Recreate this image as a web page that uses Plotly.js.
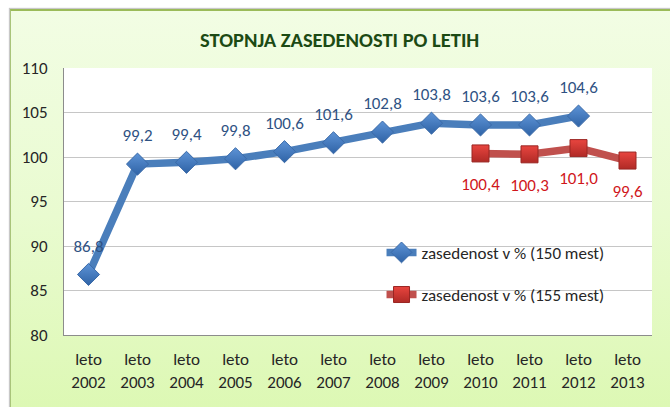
<!DOCTYPE html>
<html>
<head>
<meta charset="utf-8">
<script src="https://cdn.plot.ly/plotly-3.0.1.min.js"></script>
<style>
  html, body { margin: 0; padding: 0; background: #ffffff; }
  #wrap { position: relative; width: 670px; height: 407px; overflow: hidden; background: #ffffff; }
  #frame { position: absolute; left: 10px; top: 9px; width: 670px; height: 410px;
    background: linear-gradient(to bottom, #f2fde4 0%, #e9fbd0 50%, #dcf8b2 100%);
    border-left: 1px solid #a9c47a; border-top: 2px solid #9bbb59;
    box-shadow: -1px -1px 1px #c8c8c8; }
  #chart { position: absolute; left: 0; top: 0; width: 670px; height: 407px; }
</style>
</head>
<body>
<div id="wrap">
  <div id="frame"></div>
  <div id="chart"></div>
</div>
<script>
const categories = ["leto<br>2002","leto<br>2003","leto<br>2004","leto<br>2005","leto<br>2006","leto<br>2007","leto<br>2008","leto<br>2009","leto<br>2010","leto<br>2011","leto<br>2012","leto<br>2013"];
const series150Name = "zasedenost v % (150 mest)";
const series150 = [86.8, 99.2, 99.4, 99.8, 100.6, 101.6, 102.8, 103.8, 103.6, 103.6, 104.6, null];
const series155Name = "zasedenost v % (155 mest)";
const series155 = [null, null, null, null, null, null, null, null, 100.4, 100.3, 101.0, 99.6];
const yTicks = [80, 85, 90, 95, 100, 105, 110];

const fmt = v => v == null ? "" : v.toFixed(1).replace(".", ",");
const FONT = "Carlito, Calibri, Lato, 'Open Sans', sans-serif";
const FS = 17;

const trace150 = {
  x: categories, y: series150, name: series150Name,
  type: "scatter", mode: "lines+markers",
  line: {color: "#4a7ebb", width: 7.5},
  marker: {symbol: "diamond", size: 17, color: "#5d93d6",
           gradient: {type: "vertical", color: "#2f63a6"},
           line: {color: "#3a6aa8", width: 1}},
  legendgroup: "a", cliponaxis: false
};
const trace155 = {
  x: categories, y: series155, name: series155Name,
  type: "scatter", mode: "lines+markers",
  line: {color: "#c0504d", width: 7.5},
  marker: {symbol: "square", size: 17, color: "#e8453f",
           gradient: {type: "vertical", color: "#b02a26"},
           line: {color: "#9a2623", width: 1}},
  legendgroup: "b", cliponaxis: false
};
const labels150 = {
  x: categories, y: series150, type: "scatter", mode: "markers+text",
  text: series150.map(fmt), textposition: "top center",
  textfont: {family: FONT, size: FS, color: "#2f5283"},
  marker: {size: 28, color: "rgba(0,0,0,0)"}, showlegend: false, hoverinfo: "skip", cliponaxis: false
};
const labels155 = {
  x: categories, y: series155, type: "scatter", mode: "markers+text",
  text: series155.map(fmt), textposition: "bottom center",
  textfont: {family: FONT, size: FS, color: "#d0161b"},
  marker: {size: 36, color: "rgba(0,0,0,0)"}, showlegend: false, hoverinfo: "skip", cliponaxis: false
};

const layout = {
  width: 670, height: 407,
  margin: {l: 64, r: 18, t: 68, b: 72},
  paper_bgcolor: "rgba(0,0,0,0)",
  plot_bgcolor: "#ffffff",
  font: {family: FONT, size: FS, color: "#262626"},
  title: {text: "<b>STOPNJA ZASEDENOSTI PO LETIH</b>", font: {family: FONT, size: 20.5, color: "#1c4a14"},
          x: 0.507, xref: "container", y: 0.902, yref: "container", yanchor: "middle", xanchor: "center"},
  xaxis: {type: "category", range: [-0.5, 11.5], showgrid: false, showline: true,
          linecolor: "#8c8c8c", linewidth: 1, ticks: "", ticklabelstandoff: 9,
          tickfont: {family: FONT, size: FS, color: "#262626"}, fixedrange: true},
  yaxis: {range: [80, 110], tickvals: yTicks, ticktext: yTicks.map(String), showgrid: true,
          gridcolor: "#c6c6c6", gridwidth: 1, showline: true, linecolor: "#8c8c8c", linewidth: 1,
          ticks: "", ticklabelstandoff: 12, zeroline: false,
          tickfont: {family: FONT, size: FS, color: "#262626"}, fixedrange: true},
  showlegend: true,
  legend: {x: 0.54, y: 0.375, xanchor: "left", yanchor: "top", bgcolor: "rgba(0,0,0,0)",
           font: {family: FONT, size: FS, color: "#262626"}, traceorder: "grouped",
           tracegroupgap: 17, itemwidth: 30},
};

Plotly.newPlot("chart", [trace150, trace155, labels150, labels155], layout, {displayModeBar: false, staticPlot: true});
</script>
</body>
</html>
